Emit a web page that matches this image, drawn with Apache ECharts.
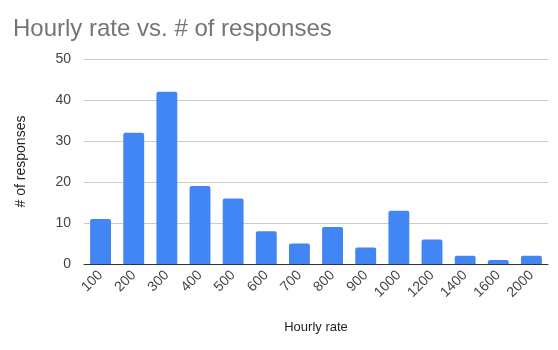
<!DOCTYPE html>
<html><head><meta charset="utf-8">
<script src="https://cdn.jsdelivr.net/npm/echarts@6/dist/echarts.min.js"></script>
<style>html,body{margin:0;padding:0;background:#fff}#c{width:558px;height:350px}</style>
</head><body><div id="c"></div>
<script>
const categories = ['100','200','300','400','500','600','700','800','900','1000','1200','1400','1600','2000'];
const responses = [11, 32, 42, 19, 16, 8, 5, 9, 4, 13, 6, 2, 1, 2];
const yTicks = [0, 10, 20, 30, 40, 50];
const chart = echarts.init(document.getElementById('c'), null, {renderer:'canvas'});
chart.setOption({
  animation:false,
  title:{text:'Hourly rate vs. # of responses', left:8, top:12,
    textStyle:{fontFamily:'Liberation Sans', fontSize:24, fontWeight:'normal', color:'#757575'}},
  grid:{left:84, right:10, top:59, bottom:86},
  xAxis:{type:'category', data:categories,
    name:'Hourly rate', nameLocation:'middle', nameGap:57,
    nameTextStyle:{fontFamily:'Liberation Sans', fontSize:13, color:'#222'},
    axisTick:{show:false},
    axisLine:{lineStyle:{color:'#333', width:1}},
    axisLabel:{rotate:45, fontFamily:'Liberation Sans', fontSize:14, color:'#444', margin:9}},
  yAxis:{type:'value', min:yTicks[0], max:yTicks[yTicks.length-1], interval:10,
    name:'# of responses', nameLocation:'middle', nameGap:56,
    nameTextStyle:{fontFamily:'Liberation Sans', fontSize:14, color:'#222'},
    axisLine:{show:false}, axisTick:{show:false},
    splitLine:{lineStyle:{color:'#ccc'}},
    axisLabel:{fontFamily:'Liberation Sans', fontSize:14, color:'#444', margin:13}},
  series:[{type:'bar', data:responses, barWidth:'63%',
    itemStyle:{color:'#4285F4', borderRadius:[2,2,0,0]}}]
});
</script></body></html>
